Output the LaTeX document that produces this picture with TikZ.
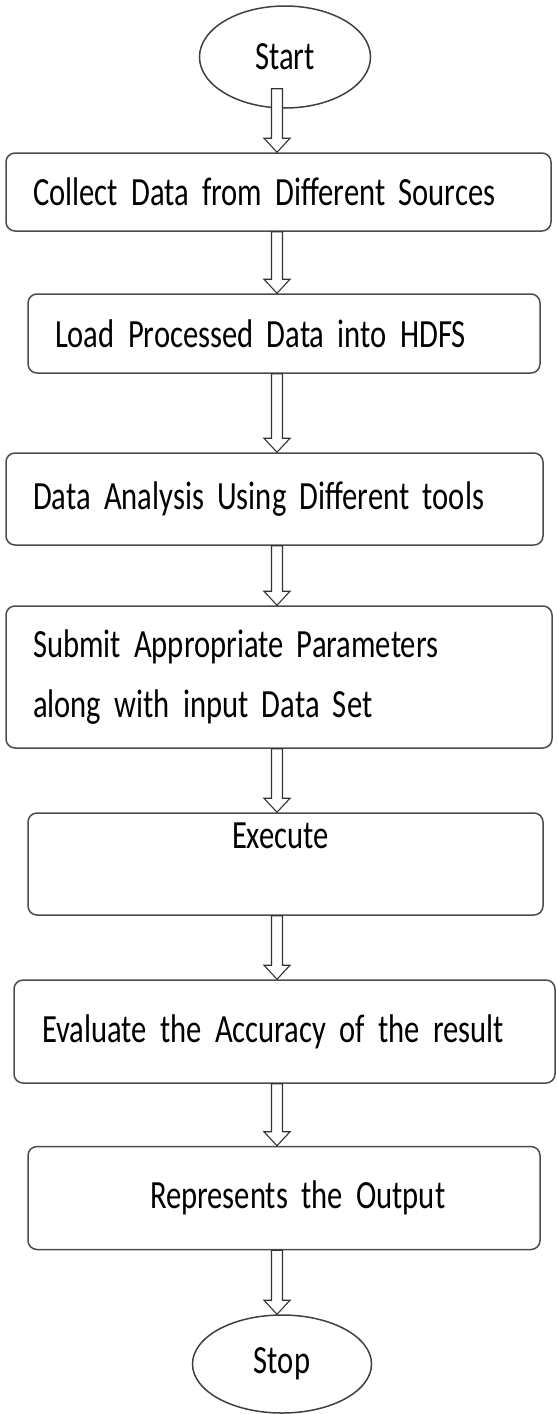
\documentclass[tikz,border=0pt]{standalone}
\usepackage{fontspec}
\usetikzlibrary{calc, shapes.geometric}
\newfontfamily\flowfont[FakeStretch=0.765]{Carlito}
\tikzset{ box/.style = { rectangle
                       , draw            = black!70
                       , line width      = 1.5pt
                       , rounded corners = 9pt
                       , align           = left
                       , inner xsep      = 0pt
                       , font            = \flowfont\fontsize{40}{60}\selectfont
                       },
          term/.style = { ellipse
                        , draw       = black!75
                        , line width = 1.5pt
                        , inner sep  = 0pt
                        , font       = \flowfont\fontsize{40}{48}\selectfont
                        },
          harrow/.style = { draw       = black!80
                          , fill       = white
                          , line width = 1.1pt
                          }
        }

\begin{document}
\begin{tikzpicture}[x=1pt, y=-1pt]
    \useasboundingbox (0,0) rectangle (557,1414);

    \node[term, minimum width=171pt, minimum height=102pt] (start) at (285,57) {Start};
    \node[box, minimum width=545pt, minimum height=78pt, text width=491pt] (b1) at (278.5,192)
        {Collect Data from Different Sources};
    \node[box, minimum width=512pt, minimum height=79pt, text width=458pt] (b2) at (284,333.5)
        {Load Processed Data into HDFS};
    \node[box, minimum width=537pt, minimum height=92pt, text width=483pt] (b3) at (274.5,499)
        {Data Analysis Using Different tools};
    \node[box, minimum width=546pt, minimum height=142pt, text width=492pt] (b4) at (279,677)
        {Submit Appropriate Parameters\\along with input Data Set};
    \node[box, minimum width=515pt, minimum height=102pt, text width=461pt] (b5) at (285.5,864)
        {\hspace*{177pt}\raisebox{28pt}[\height][\depth]{Execute}};
    \node[box, minimum width=541pt, minimum height=103pt, text width=485pt] (b6) at (284.5,1031.5)
        {Evaluate the Accuracy of the result};
    \node[box, minimum width=512pt, minimum height=103pt, text width=458pt] (b7) at (284,1198)
        {\hspace*{95pt}Represents the Output};
    \node[term, minimum width=179pt, minimum height=98pt] (stop) at (282,1364) {Stop};

    % hollow block arrows, all on one vertical line
    \coordinate (axis) at (277,0);
    \coordinate (s0) at ($(start.south)+(0,-20)$);
    \foreach \a/\b in {s0/b1.north, b1.south/b2.north, b2.south/b3.north, b3.south/b4.north,
                       b4.south/b5.north, b5.south/b6.north, b6.south/b7.north, b7.south/stop.north}
        \draw[harrow] ($(\a -| axis)+(-5.5,0)$) -- ($(\b -| axis)+(-5.5,-14)$) -- ++(-7.5,0)
            -- (\b -| axis) -- ++(13,-14) -- ++(-7.5,0) -- ($(\a -| axis)+(5.5,0)$) -- cycle;
\end{tikzpicture}
\end{document}
